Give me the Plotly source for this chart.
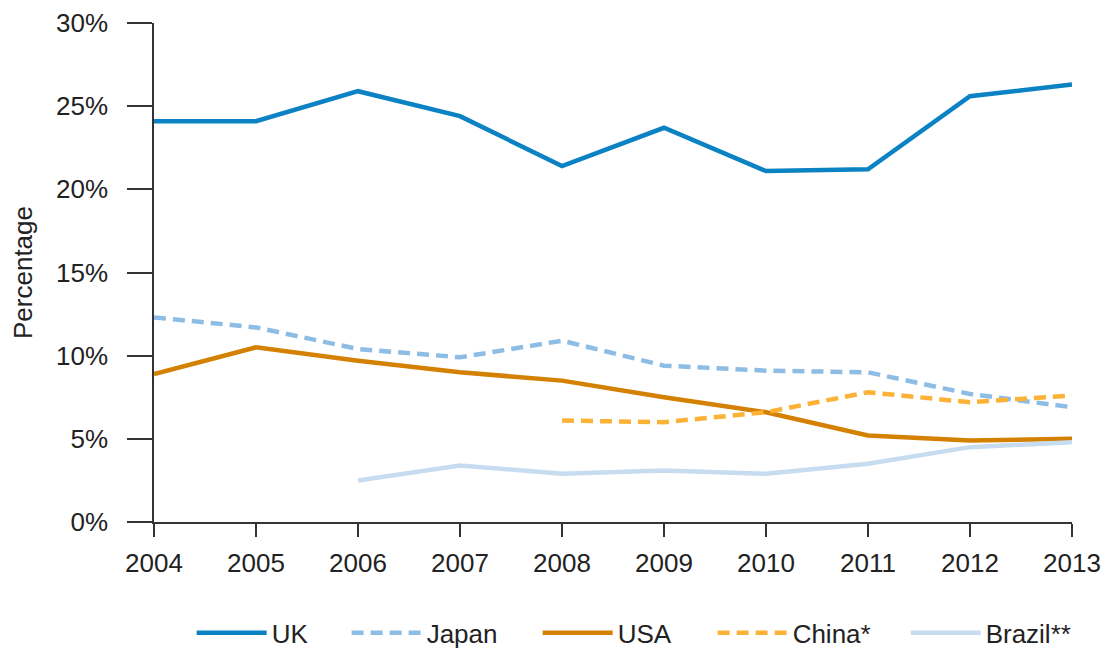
import plotly.graph_objects as go

years = [2004, 2005, 2006, 2007, 2008, 2009, 2010, 2011, 2012, 2013]
uk = [24.1, 24.1, 25.9, 24.4, 21.4, 23.7, 21.1, 21.2, 25.6, 26.3]
japan = [12.3, 11.7, 10.4, 9.9, 10.9, 9.4, 9.1, 9.0, 7.7, 6.9]
usa = [8.9, 10.5, 9.7, 9.0, 8.5, 7.5, 6.6, 5.2, 4.9, 5.0]
china_years = [2008, 2009, 2010, 2011, 2012, 2013]
china = [6.1, 6.0, 6.6, 7.8, 7.2, 7.6]
brazil_years = [2006, 2007, 2008, 2009, 2010, 2011, 2012, 2013]
brazil = [2.5, 3.4, 2.9, 3.1, 2.9, 3.5, 4.5, 4.8]

y_ticks = [0, 5, 10, 15, 20, 25, 30]
y_labels = ["0%", "5%", "10%", "15%", "20%", "25%", "30%"]

FONT = "Liberation Sans, Arial, sans-serif"
TXT = "#222"

fig = go.Figure()
series = [
    ("UK", years, uk, "#0a82c4", "solid", 70),
    ("Japan", years, japan, "#8dbde5", "12px,7px", 106),
    ("USA", years, usa, "#d48000", "solid", 90),
    ("China*", china_years, china, "#fbb236", "12px,7px", 108),
    ("Brazil**", brazil_years, brazil, "#c7dcf0", "solid", 86),
]
for name, xs, ys, col, dash, lw in series:
    fig.add_trace(go.Scatter(x=xs, y=ys, name=name, mode="lines", legendwidth=lw,
                             line=dict(color=col, width=4.5, dash=dash)))

fig.update_layout(
    width=1115, height=670,
    margin=dict(l=146, r=51, t=15, b=156),
    paper_bgcolor="white", plot_bgcolor="white",
    font=dict(family=FONT, size=26, color=TXT),
    showlegend=True,
    legend=dict(orientation="h", x=0.041, xanchor="left", y=-0.222, yanchor="middle",
                font=dict(family=FONT, size=26, color=TXT), itemwidth=70,
                traceorder="normal"),
    xaxis=dict(range=[2004, 2013], tickvals=years, ticktext=[str(y) for y in years],
               showline=True, linecolor="#333", linewidth=1.5,
               ticks="outside", ticklen=13, tickcolor="#333", tickwidth=1.5,
               ticklabelstandoff=4, automargin=False, ticklabeloverflow="allow",
               tickfont=dict(family=FONT, size=26, color=TXT),
               showgrid=False, zeroline=False),
    yaxis=dict(range=[0, 30], tickvals=y_ticks, ticktext=y_labels,
               showline=True, linecolor="#333", linewidth=1.5,
               ticks="outside", ticklen=25, tickcolor="#333", tickwidth=1.5,
               ticklabelstandoff=14, automargin=False, ticklabeloverflow="allow",
               tickfont=dict(family=FONT, size=26, color=TXT),
               showgrid=False, zeroline=False,
               title=dict(text="Percentage", font=dict(family=FONT, size=26, color=TXT),
                          standoff=18)),
)

fig.write_html("out.html")
